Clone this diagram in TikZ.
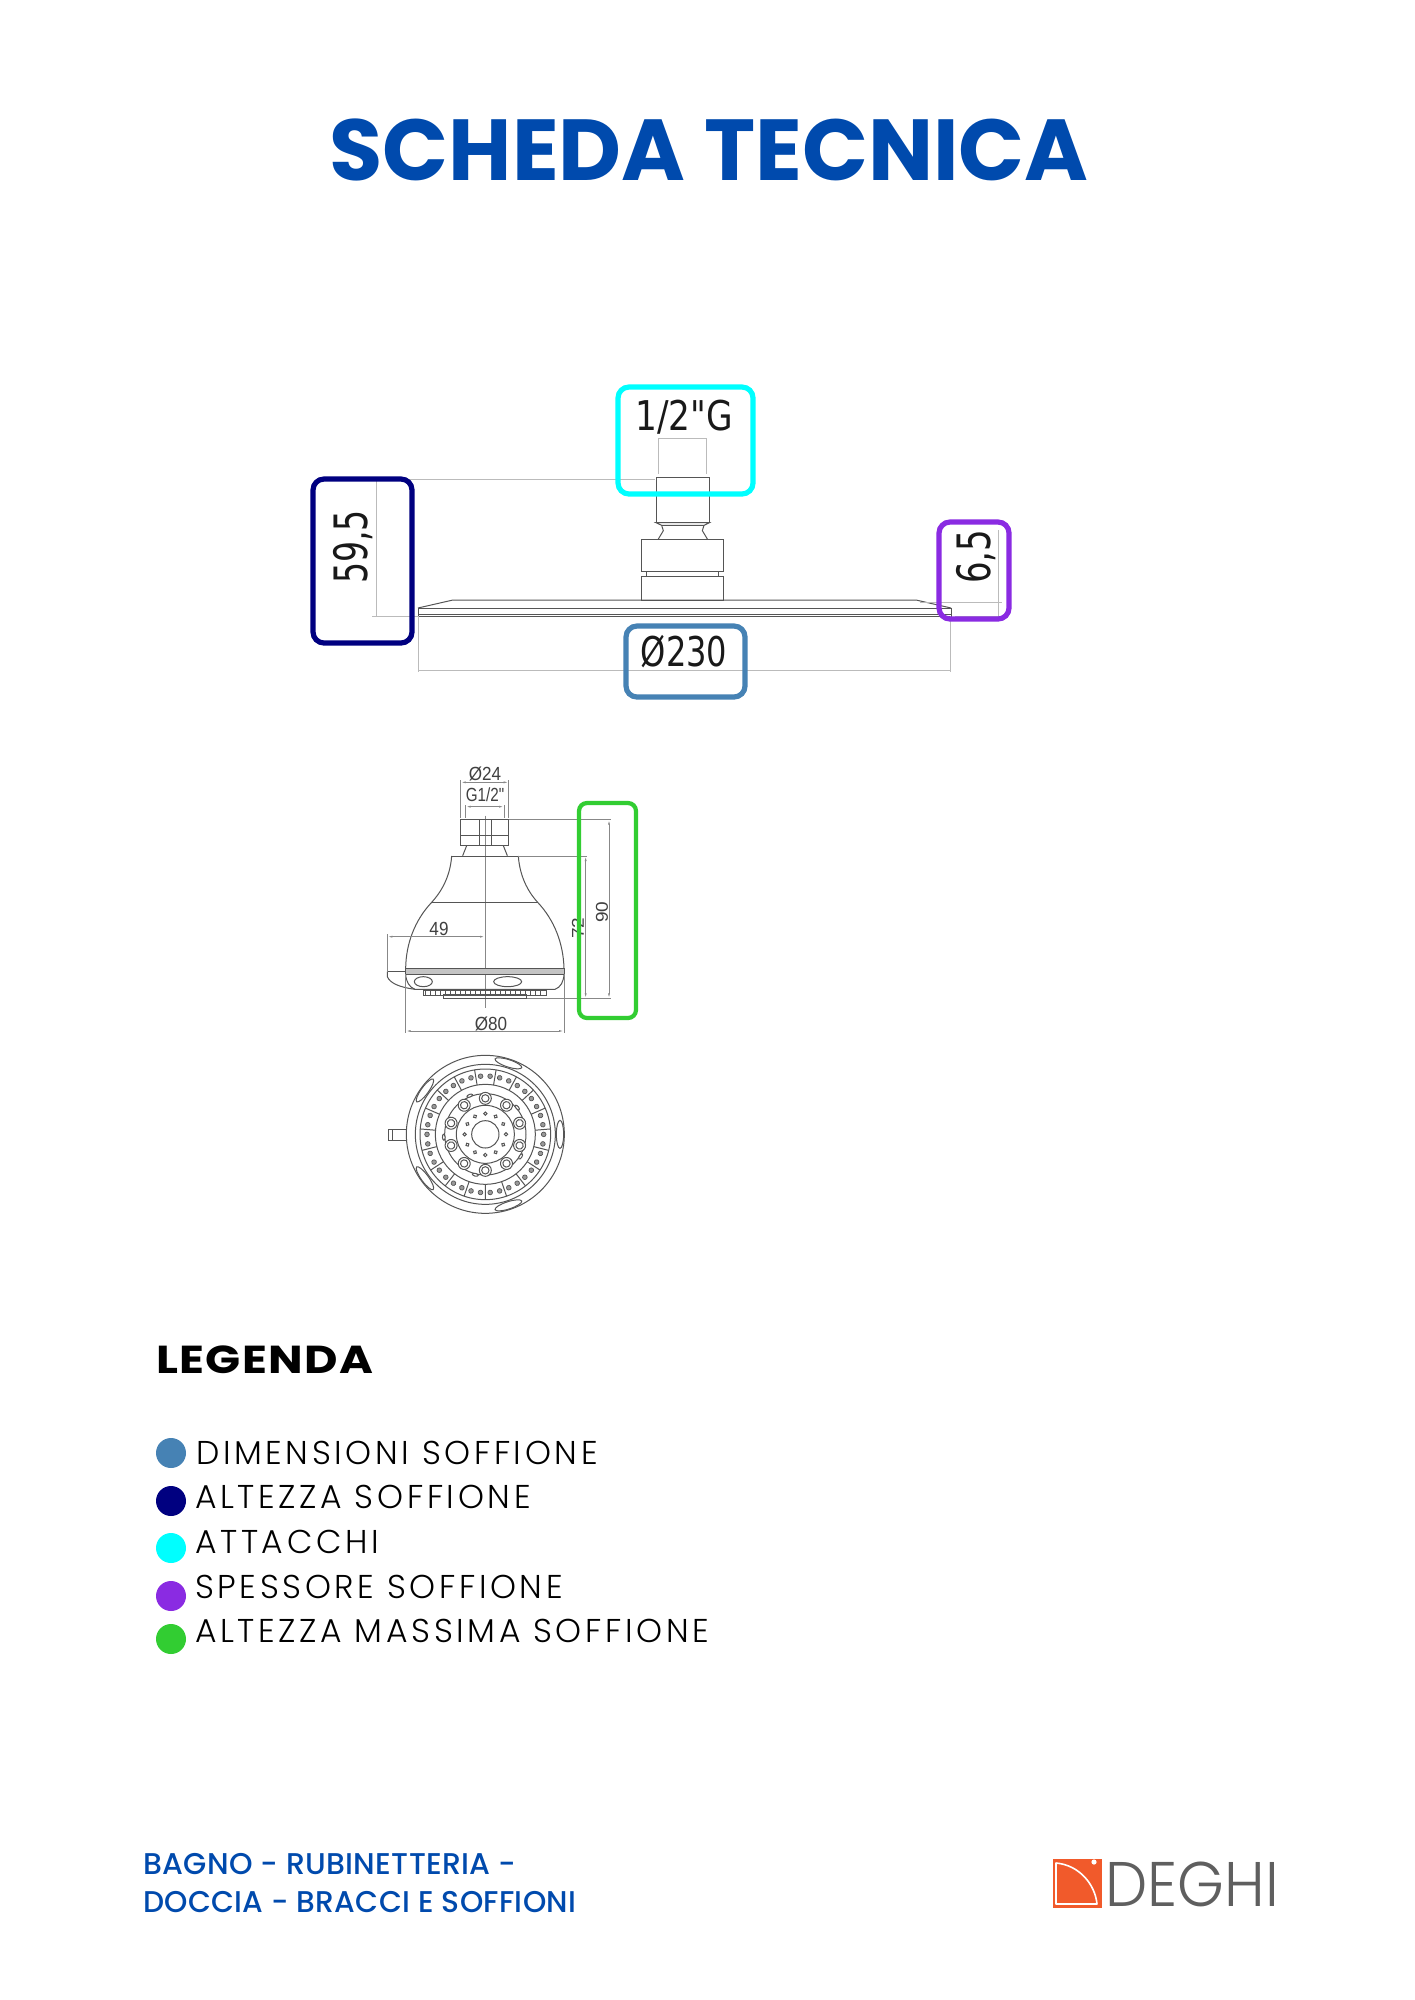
\documentclass[tikz,border=0pt]{standalone}
\usepackage{fontspec}
\usetikzlibrary{arrows.meta}
\setmainfont{Poppins}
\newfontfamily\legfont[LetterSpace=11]{Poppins Light}
\newfontfamily\boldfont{Poppins Bold}
\newfontfamily\legbold[LetterSpace=3]{Poppins Bold}
\newfontfamily\medfont[LetterSpace=1]{Poppins Medium}
\newfontfamily\logofont{Poppins Light}
\newfontfamily\dimfont{Liberation Sans}
\newfontfamily\bigdim{DejaVu Sans Condensed}
\definecolor{titleblue}{HTML}{004AAD}
\definecolor{cyanbox}{HTML}{00FFFF}
\definecolor{navybox}{HTML}{000080}
\definecolor{purplebox}{HTML}{8A2BE2}
\definecolor{steelbox}{HTML}{4682B4}
\definecolor{greenbox}{HTML}{32CD32}
\definecolor{logoorange}{HTML}{F15A2B}
\definecolor{logogrey}{HTML}{5F5F5F}
\definecolor{inkline}{HTML}{555555}
\definecolor{dimline}{HTML}{BBBBBB}
\definecolor{dim2}{HTML}{888888}
\tikzset{
  markbox/.style={line width=5.2pt,rounded corners=11pt},
  ink/.style={draw=inkline,line width=1pt},
  dimthin/.style={draw=dimline,line width=0.9pt},
  dimtwo/.style={draw=dim2,line width=0.8pt,{Latex[length=5pt,width=2pt]}-{Latex[length=5pt,width=2pt]}},
  exttwo/.style={draw=dim2,line width=0.8pt},
  dimbig/.style={inner sep=0pt,text=black!90,font=\bigdim\fontsize{41}{41}\selectfont},
  dimrot/.style={inner sep=0pt,text=black!90,font=\bigdim\fontsize{46}{46}\selectfont,rotate=90},
  dimsmall/.style={inner sep=0pt,text=black!75,font=\dimfont\fontsize{19}{19}\selectfont},
  legtext/.style={anchor=base west,inner sep=0pt,font=\legfont\fontsize{33}{33}\selectfont},
  legdot/.style={circle,minimum size=30pt,inner sep=0pt},
  footer/.style={anchor=base west,inner sep=0pt,text=titleblue,font=\medfont\fontsize{30}{30}\selectfont}
}
\begin{document}
\begin{tikzpicture}[x=1pt,y=-1pt]
\path[use as bounding box,fill=white] (0,0) rectangle (1414,2000);
% title
\node[anchor=base,inner sep=0pt,text=titleblue,font=\boldfont\fontsize{86.6}{87}\selectfont] (title) at (709,180) {SCHEDA TECNICA};

% front drawing : plate and stem
\begin{scope}[shift={(600,380)},x=1/3*1pt,y=-1/3*1pt]
  % stem
  \draw[ink] (168,428) -- (168,292) -- (328,292) -- (328,428);
  \draw[ink] (168,428) -- (185,436) -- (312,436) -- (328,428) -- cycle;
  \draw[ink] (185,436) -- (190,452) -- (175,477);
  \draw[ink] (312,436) -- (307,452) -- (322,477);
  \draw[ink] (125,477) rectangle (370,575);
  \draw[ink] (140,575) rectangle (355,588);
  \draw[ink] (125,588) rectangle (370,660);
  % plate
  \draw[ink] (-546,684) -- (-441,660) -- (948,660) -- (1053,684);
  \draw[ink] (-546,684) rectangle (1053,708);
  \draw[ink] (-546,704) -- (1053,704);
  % dimension lines
  \draw[dimthin] (175,175) -- (320,175);
  \draw[dimthin] (175,175) -- (175,283);
  \draw[dimthin] (320,175) -- (320,283);
\end{scope}
\coordinate (htopL) at (376,479);
\coordinate (htopR) at (655,479);
\coordinate (hbotL) at (372,616);
\coordinate (hbotR) at (418,616);
\draw[dimthin] (htopL) -- (htopR);
\draw[dimthin] (376,479) -- (376,616);
\draw[dimthin] (hbotL) -- (hbotR);
\draw[dimthin] (418,616) -- (418,672);
\draw[dimthin] (950,616) -- (950,672);
\draw[dimthin] (418,670) -- (950,670);
\draw[dimthin] (920,602) -- (1002,602);
\draw[dimthin] (955,616) -- (1002,616);
\draw[dimthin] (998,530) -- (998,616);

\node[dimbig,xscale=0.93] (d1) at (684,417) {1/2"G};
\node[dimbig,xscale=0.87] (d2) at (684,652) {Ø230};
\node[dimrot,xscale=0.80] (d3) at (353,547) {59,5};
\node[dimrot,xscale=0.82] (d4) at (976,557) {6,5};

% side drawing
\begin{scope}[shift={(370,750)},x=1/3*1pt,y=-1/3*1pt]
  \draw[exttwo] (345,197) -- (345,775);
  % nut and neck
  \draw[ink] (272,208) rectangle (416,287);
  \draw[ink] (272,255) -- (416,255);
  \draw[ink] (327,208) -- (327,287);
  \draw[ink] (363,208) -- (363,287);
  \draw[ink] (290,287) -- (278,317);
  \draw[ink] (400,287) -- (412,317);
  % body
  \draw[ink] (245,318) -- (445,318);
  \draw[ink] (245,318) .. controls (240,390) and (205,435) .. (185,457)
      .. controls (135,510) and (108,580) .. (107,655);
  \draw[ink] (445,318) .. controls (450,390) and (483,435) .. (503,457)
      .. controls (553,510) and (580,580) .. (582,655);
  \draw[ink] (185,457) -- (503,457);
  % bands
  \fill[inkline!35] (107,655) rectangle (582,672);
  \draw[ink] (107,655) rectangle (582,672);
  \draw[ink] (107,672) .. controls (108,695) and (118,712) .. (135,718) -- (555,718)
      .. controls (572,712) and (581,695) .. (582,672);
  \draw[ink] (160,695) ellipse [x radius=27,y radius=15];
  \draw[ink] (413,695) ellipse [x radius=42,y radius=15];
  % nozzles
  \draw[ink] (160,720) rectangle (530,735);
  \draw[ink] (220,732) rectangle (470,744);
  \foreach \n in {0,...,23} \draw[inkline,line width=0.7pt] (165+\n*15,720) -- (165+\n*15,735);
  % handle
  \draw[ink] (52,665) -- (107,665);
  \draw[ink] (52,665) -- (52,680) .. controls (60,700) and (90,712) .. (135,718);
  % dimensions
  \draw[dimtwo] (272,97) -- (416,97);
  \draw[exttwo] (272,90) -- (272,205);
  \draw[exttwo] (416,90) -- (416,205);
  \draw[dimtwo] (287,170) -- (402,170);
  \draw[exttwo] (287,165) -- (287,205);
  \draw[exttwo] (402,165) -- (402,205);
  \draw[exttwo] (416,209) -- (722,209);
  \draw[exttwo] (445,318) -- (652,318);
  \draw[exttwo] (470,745) -- (722,745);
  \draw[dimtwo] (717,209) -- (717,745);
  \draw[dimtwo] (647,318) -- (647,745);
  \draw[dimtwo] (52,560) -- (345,560);
  \draw[exttwo] (52,552) -- (52,665);
  \draw[dimtwo] (107,843) -- (582,843);
  \draw[exttwo] (107,672) -- (107,849);
  \draw[exttwo] (582,672) -- (582,849);
\end{scope}
\node[dimsmall,xscale=0.9] (s1) at (485,774) {Ø24};
\node[dimsmall,xscale=0.8] (s2) at (485,795) {G1/2"};
\node[dimsmall,xscale=0.9] (s3) at (439,929) {49};
\node[dimsmall,xscale=0.9] (s4) at (491,1024) {Ø80};
\node[dimsmall,xscale=0.9,rotate=90] (s5) at (602,912) {90};
\node[dimsmall,xscale=0.9,rotate=90] (s6) at (578,928) {72};

% bottom view
\begin{scope}[shift={(370,1040)},x=1/3*1pt,y=-1/3*1pt]
  \draw[ink] (55,268) rectangle (135,300);
  \draw[ink] (66,268) -- (66,300);
  \begin{scope}[shift={(346,283)}]
    \draw[ink,fill=white] (0,0) circle [radius=237];
    \draw[ink] (0,0) circle [radius=210];
    \draw[ink] (0,0) circle [radius=196];
    \draw[ink] (0,0) circle [radius=150];
    \foreach \a in {0,72,144,216,288} {
      \draw[ink,fill=white,rotate=\a] (224,0) ellipse [x radius=11,y radius=42];
    }
    \foreach \k in {0,...,18} {
      \begin{scope}[rotate=90+\k*18.947]
        \draw[ink] (9.47:150) -- (9.47:196);
        \draw[inkline,line width=0.7pt,fill=black!40] (4.7:175) circle [radius=7];
        \draw[inkline,line width=0.7pt,fill=black!40] (-4.7:175) circle [radius=7];
      \end{scope}
    }
    \draw[ink] (0,0) circle [radius=122];
    \draw[ink] (0,0) circle [radius=87];
    \draw[ink] (0,0) circle [radius=41];
    \foreach \k in {0,...,9} {
      \begin{scope}[rotate=90+\k*36]
        \draw[ink,fill=white] (108,0) circle [radius=18];
        \draw[ink] (108,0) circle [radius=11];
      \end{scope}
    }
    \foreach \k in {0,...,11} {
      \begin{scope}[rotate=\k*30]
        \draw[ink] (62,0) circle [radius=5];
      \end{scope}
    }
    \foreach \k in {0,...,4} {
      \begin{scope}[rotate=112+\k*72]
        \draw[ink,fill=white] (125,0) ellipse [x radius=4,y radius=9];
      \end{scope}
    }
  \end{scope}
\end{scope}

% coloured marks
\draw[markbox,draw=cyanbox] (618,387) rectangle (753,494);
\draw[markbox,draw=navybox] (313,479) rectangle (412,643);
\draw[markbox,draw=purplebox] (939,522) rectangle (1009,619);
\draw[markbox,draw=steelbox] (626,626) rectangle (745,697);
\draw[markbox,line width=4.2pt,rounded corners=8pt,draw=greenbox] (579,803) rectangle (636,1018);

% legend
\node[anchor=base west,inner sep=0pt,xscale=1.18,font=\legbold\fontsize{39}{39}\selectfont] (legtitle) at (156,1373) {LEGENDA};
\node[legdot,fill=steelbox] (c1) at (171,1453) {};
\node[legdot,fill=navybox] (c2) at (171,1501) {};
\node[legdot,fill=cyanbox] (c3) at (171,1548) {};
\node[legdot,fill=purplebox] (c4) at (171,1596) {};
\node[legdot,fill=greenbox] (c5) at (171,1639) {};
\node[legtext] (l1) at (196,1464) {DIMENSIONI SOFFIONE};
\node[legtext] (l2) at (195,1508) {ALTEZZA SOFFIONE};
\node[legtext] (l3) at (195,1553) {ATTACCHI};
\node[legtext] (l4) at (195,1598) {SPESSORE SOFFIONE};
\node[legtext] (l5) at (195,1642) {ALTEZZA MASSIMA SOFFIONE};

% footer
\node[footer] (f1) at (143,1874) {BAGNO - RUBINETTERIA -};
\node[footer,xscale=0.99] (f2) at (143,1912) {DOCCIA - BRACCI E SOFFIONI};

% logo
\fill[logoorange] (1053,1859) rectangle ++(49,49);
\draw[white,line width=1.6pt,line join=round] (1056,1863) .. controls (1079,1865) and (1095,1884) .. (1097,1904) -- (1056,1904) -- cycle;
\fill[white] (1094,1862) circle [radius=2.6];
\node[anchor=base west,inner sep=0pt,text=logogrey,font=\logofont\fontsize{63}{63}\selectfont,xscale=0.95] (logo) at (1105,1906) {DEGHI};
\end{tikzpicture}
\end{document}
